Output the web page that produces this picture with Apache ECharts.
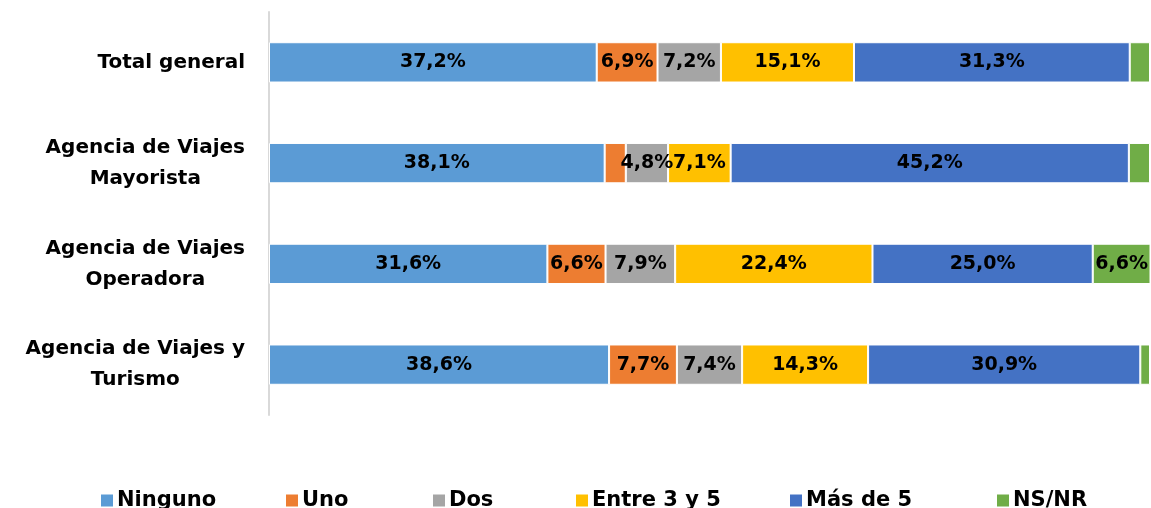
<!DOCTYPE html>
<html>
<head>
<meta charset="utf-8">
<script src="https://cdn.jsdelivr.net/npm/echarts@6/dist/echarts.min.js"></script>
<style>
  html, body { margin: 0; padding: 0; background: #ffffff; }
  #barChart { width: 1151px; height: 508px; }
</style>
</head>
<body>
<div id="barChart"></div>
<script>
// categorias (de arriba hacia abajo)
const categories = [
  "Total general",
  "Agencia de Viajes Mayorista",
  "Agencia de Viajes Operadora",
  "Agencia de Viajes y Turismo",
];
const seriesNames = ["Ninguno", "Uno", "Dos", "Entre 3 y 5", "Más de 5", "NS/NR"];
// porcentajes por serie, en el orden de categories
const ninguno = [37.2, 38.1, 31.6, 38.6];
const uno = [6.9, 2.4, 6.6, 7.7];
const dos = [7.2, 4.8, 7.9, 7.4];
const entre3y5 = [15.1, 7.1, 22.4, 14.3];
const masDe5 = [31.3, 45.2, 25.0, 30.9];
const nsnr = [2.3, 2.4, 6.6, 1.1];

const values = [ninguno, uno, dos, entre3y5, masDe5, nsnr];
const colors = ["#5B9BD5", "#ED7D31", "#A5A5A5", "#FFC000", "#4472C4", "#70AD47"];
const legendLeft = [94, 279, 426, 569, 783, 990];

const FONT = "DejaVu Sans";

let myChart = echarts.init(document.getElementById("barChart"));

let options = {
  animation: false,
  textStyle: { fontFamily: FONT },
  // una leyenda por serie para respetar el espaciado original
  legend: seriesNames.map((name, i) => ({
    data: [name],
    left: legendLeft[i],
    top: 485,
    icon: "rect",
    itemWidth: 14,
    itemHeight: 14,
    itemGap: 0,
    selectedMode: false,
    textStyle: {
      fontFamily: FONT,
      fontWeight: "bold",
      fontSize: 21,
      color: "#000000",
      padding: [0, 0, 0, -2],
    },
  })),
  grid: {
    left: 269,
    right: 1,
    top: 12,
    bottom: 93,
    containLabel: false,
  },
  xAxis: {
    type: "value",
    min: 0,
    max: 100,
    show: false,
  },
  yAxis: {
    type: "category",
    inverse: true,
    data: categories,
    axisLine: { show: true, lineStyle: { color: "#D9D9D9", width: 2 } },
    axisTick: { show: false },
    axisLabel: {
      margin: 24,
      align: "right",
      formatter: function (v) {
        let m = v.match(/^(Agencia de Viajes(?: y)?) (.*)$/);
        if (m) return "{c|" + m[1] + "}\n{c|" + m[2] + "}";
        return "{c|" + v + "}";
      },
      rich: {
        c: {
          align: "center",
          fontFamily: FONT,
          fontWeight: "bold",
          fontSize: 20,
          lineHeight: 31,
          color: "#000000",
        },
      },
    },
  },
  series: seriesNames.map((name, i) => ({
    name: name,
    type: "bar",
    stack: "total",
    barCategoryGap: "60%",
    itemStyle: {
      color: colors[i],
      borderColor: "#ffffff",
      borderWidth: 1,
    },
    label: {
      show: true,
      position: "inside",
      fontFamily: FONT,
      fontWeight: "bold",
      fontSize: 19,
      color: "#000000",
      formatter: function (p) {
        if (p.value < 3) return "";
        return p.value.toFixed(1).replace(".", ",") + "%";
      },
    },
    data: values[i],
  })),
};

myChart.setOption(options);
</script>
</body>
</html>
